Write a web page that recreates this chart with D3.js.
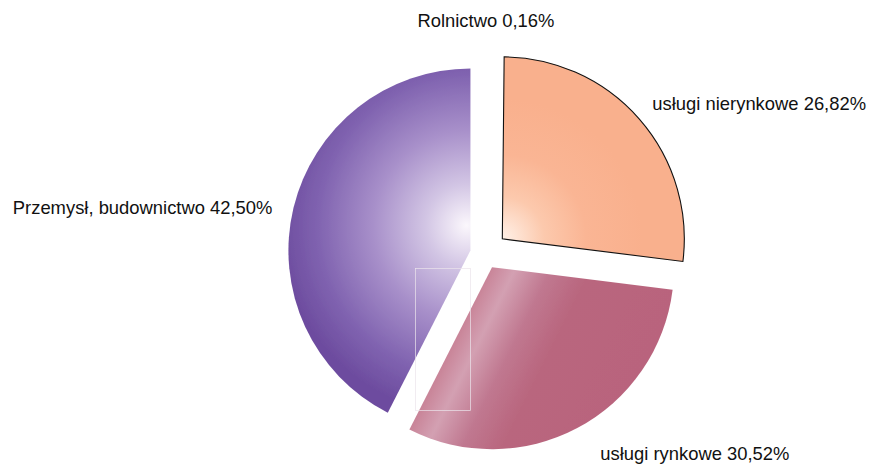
<!DOCTYPE html>
<html>
<head>
<meta charset="utf-8">
<script src="https://cdn.jsdelivr.net/npm/d3@7"></script>
<style>
  html, body { margin: 0; padding: 0; background: #fff; }
  svg { display: block; }
  text { font-family: "Liberation Sans", Arial, sans-serif; fill: #111; }
</style>
</head>
<body>
<svg></svg>
<script>
// dane
const categories = ["Rolnictwo", "usługi nierynkowe", "usługi rynkowe", "Przemysł, budownictwo"];
const values = [0.16, 26.82, 30.52, 42.5];
const valueLabels = ["0,16%", "26,82%", "30,52%", "42,50%"];

// wygląd
const W = 869, H = 466;
const cx = 485, cy = 254, radius = 182;
const explode = [0, 23, 15, 15];
const fills = ["url(#g-rol)", "url(#g-nier)", "url(#g-ryn)", "url(#g-prz)"];
const strokes = ["none", "#111", "none", "none"];
// przesunięcia etykiet względem punktu na łuku
const labelAnchor = ["middle", "start", "start", "end"];
const labelShift = [[0, -45], [13, -9], [23, 32], [-21, 6]];

const svg = d3.select("svg").attr("width", W).attr("height", H);
const defs = svg.append("defs");

const pie = d3.pie().sort(null).value((d) => d)(values);
const arc = d3.arc().innerRadius(0).outerRadius(radius);

function offset(d, i) {
  const a = (d.startAngle + d.endAngle) / 2;
  return [cx + explode[i] * Math.sin(a), cy - explode[i] * Math.cos(a)];
}

// gradient dla przemysłu (radialny, jasny przy środku)
const gp = defs.append("radialGradient").attr("id", "g-prz")
  .attr("gradientUnits", "userSpaceOnUse")
  .attr("cx", 0).attr("cy", -25).attr("r", 190)
  .attr("fx", -4).attr("fy", -25);
[[0, "#fbf7fc"], [0.22, "#d2c5e4"], [0.5, "#a890ca"], [0.8, "#8063b0"], [1, "#6d4c9f"]]
  .forEach(([o, c]) => gp.append("stop").attr("offset", o).attr("stop-color", c));

// gradient brzoskwiniowy
const gn = defs.append("radialGradient").attr("id", "g-nier")
  .attr("gradientUnits", "userSpaceOnUse")
  .attr("cx", 0).attr("cy", 0).attr("r", 140);
[[0, "#fff1e8"], [0.3, "#fcc9ad"], [0.6, "#fab594"], [1, "#f9b08d"]]
  .forEach(([o, c]) => gn.append("stop").attr("offset", o).attr("stop-color", c));

// gradient różowy (liniowy, jasny pas wzdłuż lewej krawędzi)
const gr = defs.append("linearGradient").attr("id", "g-ryn")
  .attr("gradientUnits", "userSpaceOnUse")
  .attr("x1", 0).attr("y1", 0).attr("x2", 160).attr("y2", 80);
[[0, "#c98599"], [0.12, "#d3a0b2"], [0.3, "#c07890"], [0.5, "#b9667e"], [1, "#b9647d"]]
  .forEach(([o, c]) => gr.append("stop").attr("offset", o).attr("stop-color", c));

const gro = defs.append("linearGradient").attr("id", "g-rol");
gro.append("stop").attr("offset", 0).attr("stop-color", "#fff");

defs.append("filter").attr("id", "soft")
  .append("feGaussianBlur").attr("stdDeviation", 0.7);

const slices = svg.selectAll(".slice")
  .data(pie)
  .join("g")
  .attr("class", "slice")
  .attr("transform", (d, i) => `translate(${offset(d, i)})`);

slices.append("path")
  .attr("d", arc)
  .attr("fill", (d, i) => fills[i])
  .attr("stroke", (d, i) => strokes[i])
  .attr("stroke-width", 1.1)
  .attr("filter", (d, i) => (i === 1 ? null : "url(#soft)"));

// delikatny prostokąt widoczny na oryginale
const p3 = offset(pie[3], 3);
svg.append("rect")
  .attr("x", p3[0] - 55).attr("y", p3[1] + 18)
  .attr("width", 55).attr("height", 142)
  .attr("fill", "none")
  .attr("stroke", "#ebe4ec")
  .attr("stroke-width", 0.7);

// etykiety
svg.selectAll(".lbl")
  .data(pie)
  .join("text")
  .attr("class", "lbl")
  .attr("text-anchor", (d, i) => labelAnchor[i])
  .attr("font-size", 18.4)
  .attr("x", (d, i) => {
    const a = (d.startAngle + d.endAngle) / 2;
    return offset(d, i)[0] + radius * Math.sin(a) + labelShift[i][0];
  })
  .attr("y", (d, i) => {
    const a = (d.startAngle + d.endAngle) / 2;
    return offset(d, i)[1] - radius * Math.cos(a) + labelShift[i][1];
  })
  .text((d, i) => `${categories[i]} ${valueLabels[i]}`);
</script>
</body>
</html>
